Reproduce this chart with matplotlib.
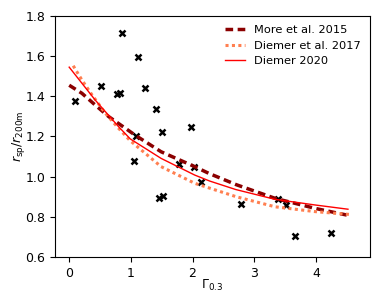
import matplotlib.pyplot as plt

plt.rcParams['font.size'] = 9

# Simulated halos: Gamma_0.3 vs r_sp / r_200m
gamma_pts = [0.09, 0.52, 0.855, 0.77, 0.82, 1.11, 1.234, 1.40, 1.505, 1.083, 1.97,
             1.055, 1.456, 1.52, 1.786, 2.03, 2.13, 2.79, 3.39, 3.52, 3.66, 4.25]
rsp_pts = [1.378, 1.451, 1.717, 1.412, 1.415, 1.597, 1.441, 1.337, 1.221, 1.202, 1.246,
           1.080, 0.895, 0.905, 1.063, 1.050, 0.975, 0.862, 0.887, 0.859, 0.706, 0.720]

# Model curves
more_x = [0.0, 0.206, 0.42, 0.64, 0.91, 1.067, 1.49, 2.035, 2.26, 2.71, 3.34, 3.99, 4.5]
more_y = [1.455, 1.415, 1.357, 1.299, 1.241, 1.207, 1.124, 1.050, 1.017, 0.960, 0.892, 0.842, 0.809]

d17_x = [0.065, 0.206, 0.37, 0.585, 0.80, 0.985, 1.49, 2.035, 2.71, 3.34, 3.99, 4.585]
d17_y = [1.552, 1.481, 1.407, 1.316, 1.241, 1.180, 1.050, 0.967, 0.900, 0.850, 0.826, 0.811]

d20_x = [0.0, 0.206, 0.42, 0.585, 0.80, 0.99, 1.49, 2.035, 2.28, 2.70, 3.34, 3.99, 4.52]
d20_y = [1.545, 1.465, 1.382, 1.324, 1.249, 1.188, 1.091, 1.008, 0.978, 0.936, 0.887, 0.859, 0.838]

fig = plt.figure(figsize=(3.82, 3.06), dpi=100)
ax = fig.add_axes([0.144, 0.160, 0.825, 0.788])

ax.plot(gamma_pts, rsp_pts, 'x', color='black', ms=4.5, mew=1.8)
ax.plot(more_x, more_y, '--', color='darkred', lw=2.5, dashes=(2.2, 1.3),
        label='More et al. 2015')
ax.plot(d17_x, d17_y, ':', color='#ff7f50', lw=2.2, dashes=(1, 1.1),
        label='Diemer et al. 2017')
ax.plot(d20_x, d20_y, '-', color='red', lw=1.0, label='Diemer 2020')

ax.set_xlim(-0.23, 4.88)
ax.set_ylim(0.6, 1.8)
ax.set_xticks([0, 1, 2, 3, 4])
ax.set_xlabel(r'$\Gamma_{0.3}$', labelpad=-1.5)
ax.set_ylabel(r'$r_{\rm sp}/r_{\rm 200m}$', labelpad=-1.5)
ax.legend(frameon=False, loc='upper right', fontsize=8.2, handlelength=1.8,
          borderaxespad=0.4)

fig.savefig('out.png', dpi=100)
